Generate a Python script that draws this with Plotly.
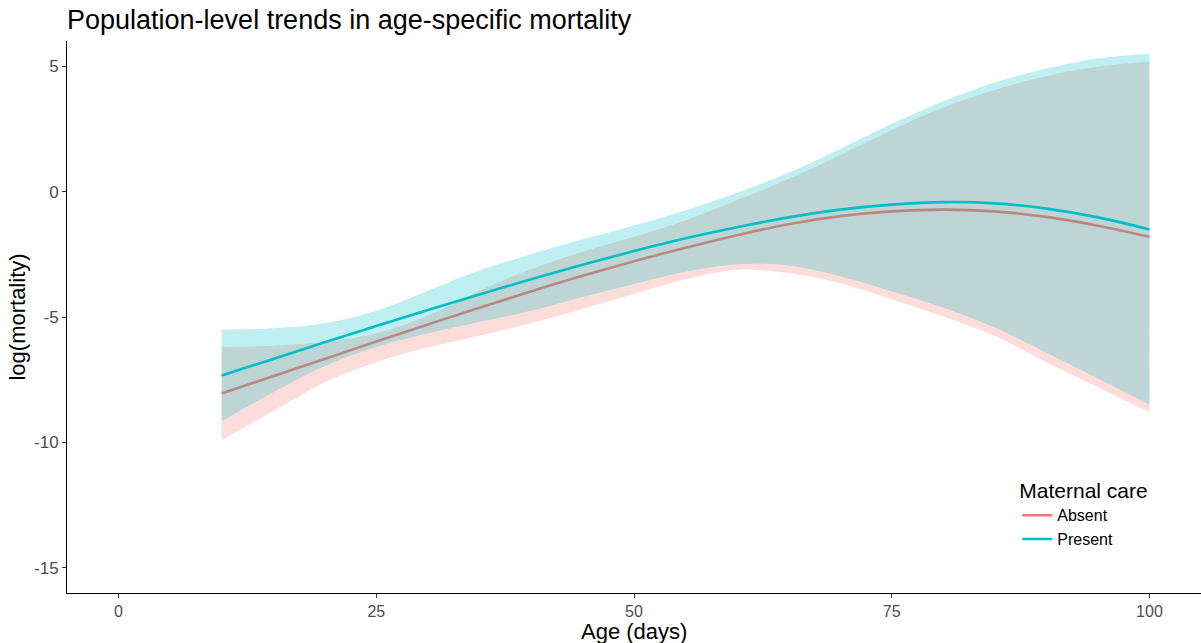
import plotly.graph_objects as go

# ---- data ----
age = [10, 15, 20, 25, 30, 35, 40, 45, 50, 55, 60, 65, 70, 75, 80, 85, 90, 95, 100]

absent_fit   = [-8.05, -7.36, -6.67, -5.98, -5.30, -4.63, -3.98, -3.36, -2.78, -2.24, -1.74, -1.30, -0.98, -0.79, -0.72, -0.79, -1.01, -1.36, -1.80]
absent_upper = [-6.20, -6.15, -6.00, -5.65, -4.95, -3.95, -3.10, -2.40, -1.80, -1.15, -0.35, 0.50, 1.45, 2.45, 3.35, 4.05, 4.60, 4.97, 5.18]
absent_lower = [-9.91, -8.75, -7.60, -6.80, -6.22, -5.75, -5.25, -4.68, -4.08, -3.50, -3.12, -3.25, -3.65, -4.30, -4.98, -5.75, -6.80, -7.80, -8.80]

present_fit   = [-7.33, -6.67, -6.01, -5.36, -4.72, -4.10, -3.50, -2.92, -2.37, -1.86, -1.42, -1.03, -0.72, -0.52, -0.42, -0.47, -0.68, -1.03, -1.51]
present_upper = [-5.50, -5.45, -5.25, -4.75, -3.95, -3.15, -2.50, -1.90, -1.35, -0.75, -0.05, 0.75, 1.70, 2.70, 3.60, 4.35, 4.90, 5.30, 5.50]
present_lower = [-9.15, -8.00, -6.95, -6.20, -5.65, -5.20, -4.75, -4.20, -3.68, -3.20, -2.90, -2.95, -3.38, -3.98, -4.62, -5.42, -6.42, -7.45, -8.49]

groups = ["Absent", "Present"]
line_colors = ["#F8766D", "#00BFC4"]
fill_colors = ["rgba(248,118,109,0.25)", "rgba(0,191,196,0.25)"]

x_ticks = [0, 25, 50, 75, 100]
y_ticks = [-15, -10, -5, 0, 5]

series = {
    "Absent": (absent_fit, absent_upper, absent_lower),
    "Present": (present_fit, present_upper, present_lower),
}

FONT = "Liberation Sans, Arial, Helvetica, sans-serif"

fig = go.Figure()
for name, lc, fc in zip(groups, line_colors, fill_colors):
    fit, up, lo = series[name]
    fig.add_trace(go.Scatter(x=age, y=lo, mode="lines", line=dict(width=0, shape="spline", color=fc),
                             showlegend=False, hoverinfo="skip"))
    fig.add_trace(go.Scatter(x=age, y=up, mode="lines", line=dict(width=0, shape="spline", color=fc),
                             fill="tonexty", fillcolor=fc, showlegend=False, hoverinfo="skip"))
    fig.add_trace(go.Scatter(x=age, y=fit, mode="lines", name=name,
                             line=dict(color=lc, width=2.6, shape="spline")))

fig.update_layout(
    width=1201, height=643,
    paper_bgcolor="white", plot_bgcolor="white",
    margin=dict(l=67, r=0, t=41, b=50),
    font=dict(family=FONT, color="black"),
    title=dict(text="Population-level trends in age-specific mortality",
               x=67/1201, xref="container", xanchor="left",
               y=1 - 20/643, yref="container", yanchor="middle",
               font=dict(size=27, color="black", family=FONT)),
    legend=dict(
        title=dict(text="Maternal care", font=dict(size=21, color="black")),
        font=dict(size=16, color="black"),
        traceorder="normal",
        x=0.838, y=0.221, xanchor="left", yanchor="top",
        bgcolor="rgba(0,0,0,0)", itemwidth=30, tracegroupgap=0,
    ),
    annotations=[dict(text="Age (days)", xref="paper", yref="paper",
                      x=0.5, y=-38/552, xanchor="center", yanchor="middle",
                      showarrow=False, font=dict(size=22, color="black", family=FONT))],
)

fig.update_xaxes(
    range=[-5, 105], tickmode="array", tickvals=x_ticks, ticktext=[str(v) for v in x_ticks],
    showgrid=False, zeroline=False, showline=True, linecolor="black", linewidth=1,
    ticks="outside", ticklen=4, tickcolor="#333333", tickwidth=1,
    tickfont=dict(size=16, color="#4D4D4D"),
)
fig.update_yaxes(
    range=[-16, 6], tickmode="array", tickvals=y_ticks, ticktext=[str(v) for v in y_ticks],
    showgrid=False, zeroline=False, showline=True, linecolor="black", linewidth=1,
    ticks="outside", ticklen=4, tickcolor="#333333", tickwidth=1,
    tickfont=dict(size=17, color="#4D4D4D"),
    title=dict(text="log(mortality)", font=dict(size=22, color="black"), standoff=2),
)

fig.write_html("out.html")
